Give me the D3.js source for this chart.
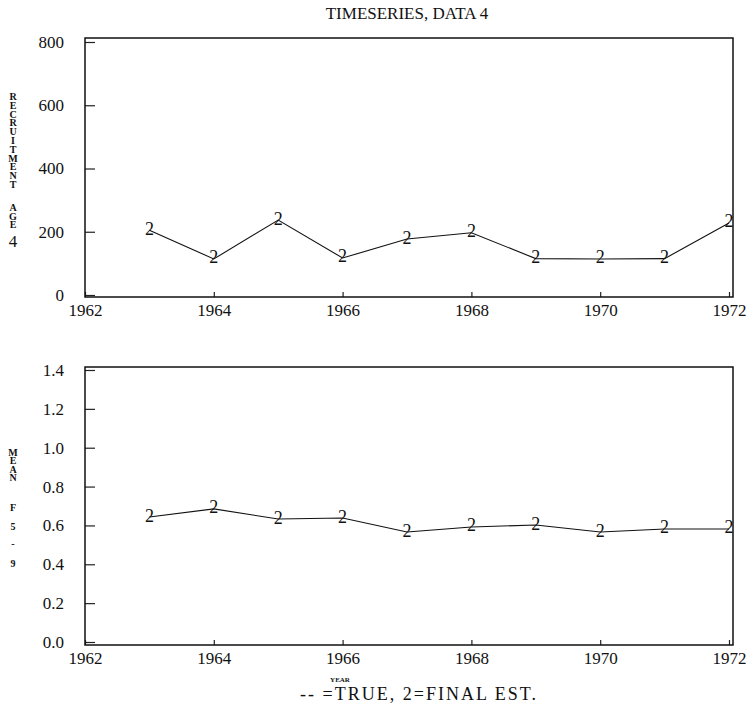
<!DOCTYPE html>
<html>
<head>
<meta charset="utf-8">
<script src="https://cdn.jsdelivr.net/npm/d3@7"></script>
<style>
  body { margin: 0; background: #fff; }
  svg { display: block; }
  svg text { font-family: "Liberation Serif", "DejaVu Serif", serif; fill: #111; }
  .tick line { stroke: #222; stroke-width: 1.2; }
  .tick text { font-size: 17px; }
  .vert { writing-mode: vertical-rl; text-orientation: upright; font-weight: bold; font-size: 10px; }
</style>
</head>
<body>
<div id="chart"></div>
<script>
// data
var years = [1963, 1964, 1965, 1966, 1967, 1968, 1969, 1970, 1971, 1972];
var recruitment = [205, 114, 237, 117, 177, 197, 115, 114, 115, 228];
var meanF = [0.643, 0.685, 0.633, 0.638, 0.566, 0.592, 0.602, 0.566, 0.582, 0.582];
var xTicks = [1962, 1964, 1966, 1968, 1970, 1972];
var recTicks = [0, 200, 400, 600, 800];
var fTicks = [0.0, 0.2, 0.4, 0.6, 0.8, 1.0, 1.2, 1.4];

var W = 748, H = 703;
var serif = "'Liberation Serif', 'DejaVu Serif', serif";
var svg = d3.select("#chart").append("svg")
  .attr("width", W).attr("height", H)
  .attr("font-family", serif);

var x = d3.scaleLinear().domain([1962, 1972]).range([85, 729]);

// one panel: box, axes, line and "2" markers
function panel(vals, ticks, y, box, fmt) {
  var g = svg.append("g");

  // y axis, ticks pointing in
  g.append("g")
    .attr("transform", "translate(" + box.left + ",0)")
    .call(d3.axisLeft(y).tickValues(ticks).tickSize(-10).tickPadding(21).tickFormat(fmt))
    .attr("font-family", serif)
    .call(function (a) { a.select(".domain").remove(); });

  // x axis, short ticks pointing up
  g.append("g")
    .attr("transform", "translate(0," + box.bottom + ")")
    .call(d3.axisBottom(x).tickValues(xTicks).tickSize(-5).tickPadding(7).tickFormat(d3.format("d")))
    .attr("font-family", serif)
    .call(function (a) { a.select(".domain").remove(); });

  // frame
  g.append("rect")
    .attr("x", box.left).attr("y", box.top)
    .attr("width", box.right - box.left).attr("height", box.bottom - box.top)
    .attr("fill", "none").attr("stroke", "#111").attr("stroke-width", 1.5);

  var line = d3.line()
    .x(function (d, i) { return x(years[i]); })
    .y(function (d) { return y(d); });

  g.append("path")
    .datum(vals)
    .attr("d", line)
    .attr("fill", "none")
    .attr("stroke", "#111")
    .attr("stroke-width", 1.1);

  g.selectAll(".mk")
    .data(vals)
    .enter().append("text")
    .attr("class", "mk")
    .attr("x", function (d, i) { return x(years[i]); })
    .attr("y", function (d) { return y(d); })
    .attr("dy", "0.25em")
    .attr("text-anchor", "middle")
    .style("font-size", "18px")
    .text("2");
}

var yRec = d3.scaleLinear().domain([0, 800]).range([295, 42]);
panel(recruitment, recTicks, yRec, { left: 85, right: 733, top: 38, bottom: 297 }, d3.format("d"));

var yF = d3.scaleLinear().domain([0, 1.4]).range([642, 370]);
panel(meanF, fTicks, yF, { left: 85, right: 733, top: 367, bottom: 645 }, d3.format(".1f"));

// title
svg.append("text")
  .attr("x", 407).attr("y", 19)
  .attr("text-anchor", "middle")
  .style("font-size", "17px")
  .text("TIMESERIES, DATA 4");

// stacked y labels: letters upright, top to bottom
function vlabel(txt, top, spacing) {
  svg.append("text")
    .attr("class", "vert")
    .attr("x", 13).attr("y", top)
    .style("letter-spacing", spacing + "px")
    .text(txt);
}

vlabel("RECRUITMENT", 91, -2.2);
vlabel("AGE", 202, -2.5);
svg.append("text")
  .attr("x", 13).attr("y", 247)
  .attr("text-anchor", "middle")
  .style("font-size", "17px")
  .text("4");

vlabel("MEAN", 447, -2.7);
vlabel("F", 502, 0);
vlabel("5", 521, 0);
vlabel("-", 538, 0);
vlabel("9", 558, 0);

// legend and the small YEAR squeezed above it
svg.append("text")
  .attr("x", 419).attr("y", 700)
  .attr("text-anchor", "middle")
  .style("font-size", "18px")
  .style("letter-spacing", "2px")
  .text("-- =TRUE, 2=FINAL EST.");

svg.append("text")
  .attr("x", 340).attr("y", 682)
  .attr("text-anchor", "middle")
  .style("font-size", "7px")
  .style("font-weight", "bold")
  .text("YEAR");
</script>
</body>
</html>
